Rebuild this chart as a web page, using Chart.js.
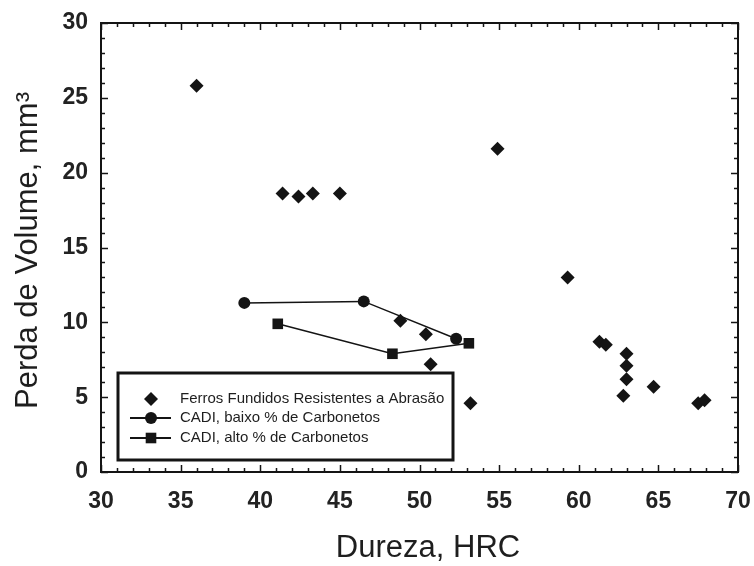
<!DOCTYPE html>
<html>
<head>
<meta charset="utf-8">
<script src="https://cdn.jsdelivr.net/npm/chart.js@4.4.1/dist/chart.umd.min.js"></script>
<style>
html, body { margin: 0; padding: 0; background: #fff; }
</style>
</head>
<body>
<canvas id="grafico" width="754" height="566"></canvas>
<script>
// dados (Dureza HRC x Perda de Volume mm3)
var durezaFerros = [36.0, 41.4, 42.4, 43.3, 45.0, 54.9, 59.3, 48.8, 50.4, 50.7, 53.2,
                    61.3, 61.7, 63.0, 63.0, 63.0, 62.8, 64.7, 67.5, 67.9];
var perdaFerros  = [25.8, 18.6, 18.4, 18.6, 18.6, 21.6, 13.0, 10.1, 9.2, 7.2, 4.6,
                    8.7, 8.5, 7.9, 7.1, 6.2, 5.1, 5.7, 4.6, 4.8];

var durezaBaixo = [39.0, 46.5, 52.3];
var perdaBaixo  = [11.3, 11.4, 8.9];

var durezaAlto = [41.1, 48.3, 53.1];
var perdaAlto  = [9.9, 7.9, 8.6];

var nomesSeries = ["Ferros Fundidos Resistentes a Abrasão",
                   "CADI, baixo % de Carbonetos",
                   "CADI, alto % de Carbonetos"];

var ticksX = [30, 35, 40, 45, 50, 55, 60, 65, 70];
var ticksY = [0, 5, 10, 15, 20, 25, 30];

var tituloX = "Dureza, HRC";
var tituloY = "Perda de Volume, mm³";

var fonte = "'Liberation Sans', Arial, sans-serif";
var preto = "#141414";

function pontos(xs, ys){
    var lista = [];
    for (var i = 0; i < xs.length; i++){
        lista.push({x: xs[i], y: ys[i]});
    }
    return lista;
}

// moldura, ticks para dentro, titulos dos eixos e legenda
var molduraPlugin = {
    id: 'moldura',
    afterDatasetsDraw: function(chart){
        var ctx = chart.ctx;
        var a = chart.chartArea;
        var sx = chart.scales.x;
        var sy = chart.scales.y;
        ctx.save();
        ctx.strokeStyle = preto;
        ctx.lineWidth = 1.5;
        var v, p, len;
        for (v = ticksX[0]; v <= ticksX[ticksX.length-1]; v++){
            p = Math.round(sx.getPixelForValue(v)) + 0.5;
            len = (v % 5 == 0) ? 7 : 4;
            ctx.beginPath();
            ctx.moveTo(p, a.bottom); ctx.lineTo(p, a.bottom - len);
            ctx.moveTo(p, a.top); ctx.lineTo(p, a.top + len);
            ctx.stroke();
        }
        for (v = ticksY[0]; v <= ticksY[ticksY.length-1]; v++){
            p = Math.round(sy.getPixelForValue(v)) + 0.5;
            len = (v % 5 == 0) ? 7 : 4;
            ctx.beginPath();
            ctx.moveTo(a.left, p); ctx.lineTo(a.left + len, p);
            ctx.moveTo(a.right, p); ctx.lineTo(a.right - len, p);
            ctx.stroke();
        }
        ctx.lineWidth = 2;
        ctx.strokeRect(a.left, a.top, a.right - a.left, a.bottom - a.top);

        // legenda
        var lx = a.left + 17, ly = a.bottom - 99, lw = 335, lh = 87;
        ctx.fillStyle = "#fff";
        ctx.fillRect(lx, ly, lw, lh);
        ctx.lineWidth = 3;
        ctx.strokeRect(lx, ly, lw, lh);
        var linhas = [ly + 26, ly + 45, ly + 65];
        chart.data.datasets.forEach(function(ds, i){
            var cy = linhas[i];
            var cx = lx + 33;
            ctx.strokeStyle = preto;
            ctx.fillStyle = preto;
            if (ds.showLine){
                ctx.lineWidth = 1.8;
                ctx.beginPath();
                ctx.moveTo(lx + 12, cy); ctx.lineTo(lx + 53, cy);
                ctx.stroke();
            }
            Chart.helpers.drawPoint(ctx, {pointStyle: ds.pointStyle, radius: ds.pointRadius, rotation: 0, borderWidth: 0}, cx, cy);
            ctx.fillStyle = "#1e1e1e";
            ctx.font = "15px " + fonte;
            ctx.textAlign = "left";
            ctx.textBaseline = "middle";
            ctx.fillText(ds.label, lx + 62, cy);
        });

        // titulos dos eixos
        ctx.fillStyle = "#1e1e1e";
        ctx.font = "31px " + fonte;
        ctx.textAlign = "center";
        ctx.textBaseline = "middle";
        ctx.fillText(tituloX, 428, 548);
        ctx.save();
        ctx.translate(28, (a.top + a.bottom) / 2 + 3);
        ctx.rotate(-Math.PI / 2);
        ctx.fillText(tituloY, 0, 0);
        ctx.restore();
        ctx.restore();
    }
};

function init(){
    var canvas = document.getElementById('grafico').getContext('2d');
    window.grafico = new Chart(canvas, {
        type: 'scatter',
        data: {
            datasets: [{
                label: nomesSeries[0],
                data: pontos(durezaFerros, perdaFerros),
                pointStyle: 'rectRot',
                pointRadius: 7,
                backgroundColor: preto,
                borderWidth: 0,
                showLine: false
            }, {
                label: nomesSeries[1],
                data: pontos(durezaBaixo, perdaBaixo),
                pointStyle: 'circle',
                pointRadius: 6,
                backgroundColor: preto,
                borderColor: preto,
                borderWidth: 1.5,
                pointBorderWidth: 0,
                showLine: true
            }, {
                label: nomesSeries[2],
                data: pontos(durezaAlto, perdaAlto),
                pointStyle: 'rect',
                pointRadius: 7.5,
                backgroundColor: preto,
                borderColor: preto,
                borderWidth: 1.5,
                pointBorderWidth: 0,
                showLine: true
            }]
        },
        options: {
            responsive: false,
            animation: false,
            devicePixelRatio: 1,
            layout: { padding: { top: 23, right: 16, left: 0, bottom: 0 } },
            plugins: {
                legend: { display: false },
                tooltip: { enabled: false }
            },
            scales: {
                x: {
                    type: 'linear',
                    min: ticksX[0],
                    max: ticksX[ticksX.length-1],
                    afterBuildTicks: function(s){ s.ticks = ticksX.map(function(v){ return {value: v}; }); },
                    afterFit: function(s){ s.height = 94; s.paddingLeft = 0; s.paddingRight = 0; },
                    grid: { display: false, drawTicks: false },
                    border: { display: false },
                    ticks: { padding: 16, color: "#222", font: { family: fonte, size: 23, weight: 'bold' } }
                },
                y: {
                    type: 'linear',
                    min: ticksY[0],
                    max: ticksY[ticksY.length-1],
                    afterBuildTicks: function(s){ s.ticks = ticksY.map(function(v){ return {value: v}; }); },
                    afterFit: function(s){ s.width = 101; s.paddingTop = 0; s.paddingBottom = 0; },
                    grid: { display: false, drawTicks: false },
                    border: { display: false },
                    ticks: { padding: 13, color: "#222", font: { family: fonte, size: 23, weight: 'bold' } }
                }
            }
        },
        plugins: [molduraPlugin]
    });
}
init();
</script>
</body>
</html>
